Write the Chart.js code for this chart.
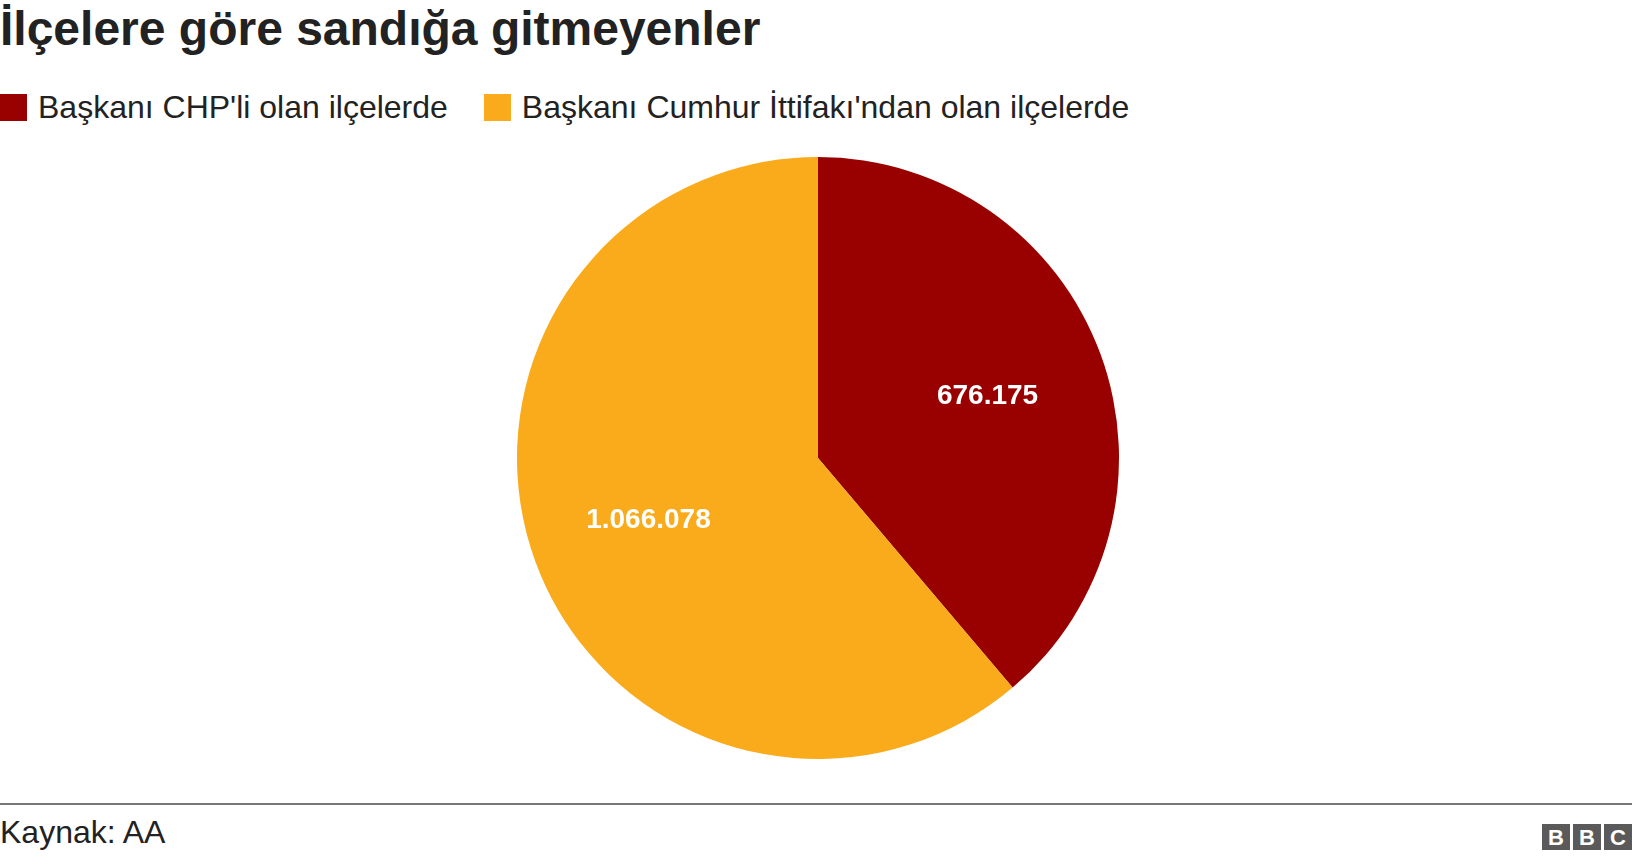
<!DOCTYPE html>
<html><head><meta charset="utf-8">
<script src="https://cdn.jsdelivr.net/npm/chart.js@4"></script>
<style>
body{margin:0;width:1632px;height:860px;background:#fff;font-family:"Liberation Sans",Arial,sans-serif;position:relative;overflow:hidden}
#title{position:absolute;left:0;top:1px;font-size:48px;font-weight:bold;color:#222}
#legend{position:absolute;left:0;top:89px;font-size:32px;color:#222;display:flex}
.li{display:flex;align-items:center;margin-right:36px}
.sw{width:27px;height:27px;margin-right:11px}
#line{position:absolute;left:0;top:803px;width:1632px;height:2px;background:#777}
#src{position:absolute;left:0;top:814px;font-size:32px;color:#222}
#bbc{position:absolute;left:1542px;top:824px;display:flex}
#bbc div{width:28px;height:26px;background:#5a5a5a;color:#fff;font-weight:bold;font-size:22px;text-align:center;line-height:27px;margin-right:3px}
#wrap{position:absolute;left:517px;top:157px;width:602px;height:602px}
</style></head><body>
<div id="title">İlçelere göre sandığa gitmeyenler</div>
<div id="legend"></div>
<div id="wrap"><canvas id="c" width="602" height="602"></canvas></div>
<div id="line"></div>
<div id="src">Kaynak: AA</div>
<div id="bbc"><div>B</div><div>B</div><div>C</div></div>
<script>
const categories=["Başkanı CHP'li olan ilçelerde","Başkanı Cumhur İttifakı'ndan olan ilçelerde"];
const values=[676175,1066078];
const valueLabels=["676.175","1.066.078"];
const colors=["#990000","#f9ab1b"];
const lg=document.getElementById('legend');
categories.forEach((c,i)=>{lg.innerHTML+=`<div class="li"><div class="sw" style="background:${colors[i]}"></div>${c}</div>`;});
const labelPlugin={id:'lbl',afterDatasetsDraw(ch){const ctx=ch.ctx;const meta=ch.getDatasetMeta(0);
ctx.save();ctx.fillStyle='#fff';ctx.font='bold 28px "Liberation Sans", Arial';ctx.textAlign='center';ctx.textBaseline='middle';
meta.data.forEach((a,i)=>{const m=(a.startAngle+a.endAngle)/2;const r=a.outerRadius*0.6;ctx.fillText(valueLabels[i],a.x+Math.cos(m)*r,a.y+Math.sin(m)*r);});ctx.restore();}};
new Chart(document.getElementById('c'),{type:'pie',data:{labels:categories,datasets:[{data:values,backgroundColor:colors,borderWidth:0}]},
options:{responsive:false,animation:false,layout:{padding:0},plugins:{legend:{display:false},tooltip:{enabled:false}}},plugins:[labelPlugin]});
</script></body></html>
